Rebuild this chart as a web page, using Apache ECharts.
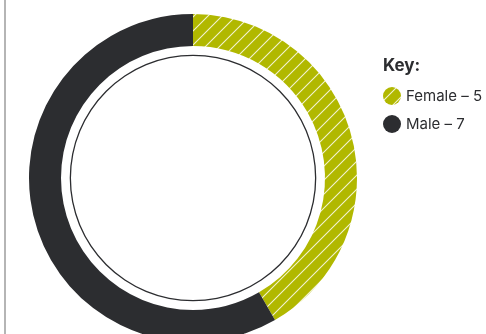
<!DOCTYPE html>
<html><head><meta charset="utf-8">
<script src="https://cdn.jsdelivr.net/npm/echarts@6/dist/echarts.min.js"></script>
<style>html,body{margin:0;padding:0;background:#fff}#c{width:486px;height:334px}</style>
</head><body><div id="c"></div>
<script>
var categories = ['Female', 'Male'];
var values = [5, 7];
var keyTitle = 'Key:';

function hatch() {
  var s = 14, c = document.createElement('canvas');
  c.width = s; c.height = s;
  var g = c.getContext('2d');
  g.fillStyle = '#b1b800'; g.fillRect(0, 0, s, s);
  g.strokeStyle = 'rgba(245,245,220,0.95)'; g.lineWidth = 1.1;
  g.beginPath();
  g.moveTo(-2, s + 2); g.lineTo(s + 2, -2);
  g.moveTo(-2, 2); g.lineTo(2, -2);
  g.moveTo(s - 2, s + 2); g.lineTo(s + 2, s - 2);
  g.stroke();
  return c;
}
var colors = [{ image: hatch(), repeat: 'repeat' }, '#2c2d30'];

var chart = echarts.init(document.getElementById('c'));
chart.setOption({
  animation: false,
  title: { text: keyTitle, left: 383, top: 57, padding: 0, textStyle: { fontFamily: 'Inter', fontSize: 17, fontWeight: 'bold', color: '#2c2d30' } },
  legend: {
    orient: 'vertical', left: 383, top: 87, padding: 0, itemWidth: 18, itemHeight: 18, itemGap: 10, icon: 'circle',
    data: categories,
    formatter: function (n) { return n + ' \u2013 ' + values[categories.indexOf(n)]; },
    textStyle: { fontFamily: 'Inter', fontSize: 15, color: '#2c2d30' }
  },
  graphic: [{ type: 'rect', shape: { x: 4, y: 0, width: 2, height: 334 }, style: { fill: '#b5b5b5' }, silent: true }],
  series: [
    {
      type: 'pie', center: [193, 178], radius: [132, 164], startAngle: 90, clockwise: true,
      label: { show: false }, labelLine: { show: false }, silent: true,
      data: categories.map(function (n, i) { return { name: n, value: values[i], itemStyle: { color: colors[i] } }; })
    },
    {
      type: 'pie', center: [193, 178], radius: [122, 123.3], silent: true,
      label: { show: false }, labelLine: { show: false }, legendHoverLink: false,
      data: [{ name: 'ring', value: 1, itemStyle: { color: '#2c2d30' } }]
    }
  ]
});
</script></body></html>
